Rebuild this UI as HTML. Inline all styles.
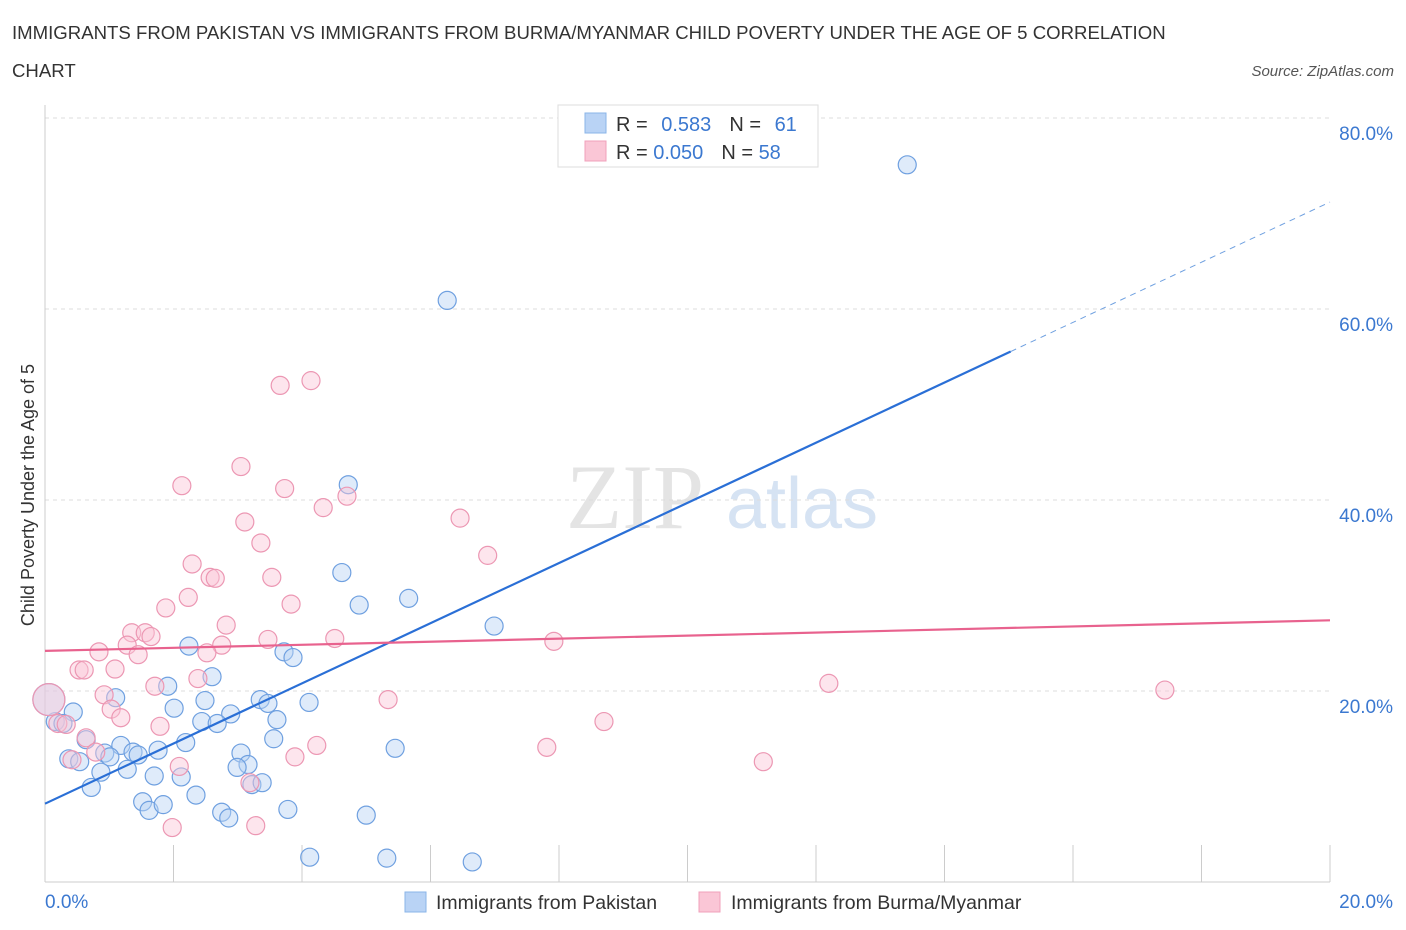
<!DOCTYPE html>
<html><head><meta charset="utf-8"><style>
body{margin:0;background:#fff;font-family:"Liberation Sans",sans-serif;}
svg{display:block}
</style></head><body>
<svg id="chart" width="1406" height="930" xmlns="http://www.w3.org/2000/svg">
<text x="12" y="39" font-size="18.6" fill="#333">IMMIGRANTS FROM PAKISTAN VS IMMIGRANTS FROM BURMA/MYANMAR CHILD POVERTY UNDER THE AGE OF 5 CORRELATION</text>
<text x="12" y="77" font-size="18.6" fill="#333">CHART</text>
<text x="1394" y="76" font-size="15" fill="#555" font-style="italic" text-anchor="end">Source: ZipAtlas.com</text>
<text x="34" y="495" font-size="18" fill="#333" text-anchor="middle" transform="rotate(-90 34 495)">Child Poverty Under the Age of 5</text>
<g>
<text x="635" y="528" font-size="92" fill="#e4e4e4" font-family="Liberation Serif,serif" text-anchor="middle">ZIP</text>
<text x="802" y="528" font-size="72" fill="#d6e3f3" text-anchor="middle">atlas</text>
</g>
<g id="grid"></g>
<g id="axes"></g>
<g id="pts"></g>
<g id="lines"></g>
<g>
<rect x="558" y="105" width="260" height="62" fill="#fff" stroke="#ddd"/>
<rect x="585" y="113" width="21" height="20" fill="#b9d3f5" stroke="#8ab4e8"/>
<rect x="585" y="141" width="21" height="20" fill="#fac6d6" stroke="#f0a0bb"/>
<text x="616" y="131" font-size="20" fill="#333">R = <tspan fill="#3b78d0" dx="8">0.583</tspan><tspan dx="18">N = </tspan><tspan fill="#3b78d0" dx="8">61</tspan></text>
<text x="616" y="159" font-size="20" fill="#333">R = <tspan fill="#3b78d0" dx="0">0.050</tspan><tspan dx="18">N = </tspan><tspan fill="#3b78d0" dx="0">58</tspan></text>
</g>
<g>
<rect x="405" y="892" width="21" height="20" fill="#b9d3f5" stroke="#8ab4e8"/>
<text x="436" y="909" font-size="19.5" fill="#333">Immigrants from Pakistan</text>
<rect x="699" y="892" width="21" height="20" fill="#fac6d6" stroke="#f0a0bb"/>
<text x="731" y="909" font-size="19.5" fill="#333">Immigrants from Burma/Myanmar</text>
</g>
</svg>
<script>
const xTicks=[0,20];
const yTicks=[20,40,60,80];
const blueX=[13.42,6.26,4.72,4.62,4.89,5.66,6.99,2.24,3.72,3.86,1.91,2.6,1.10,2.49,3.35,3.47,4.11,2.01,2.89,2.44,2.68,3.61,0.44,0.16,0.28,0.06,0.64,1.18,1.37,1.45,0.93,1.01,0.37,0.54,2.19,1.76,3.56,3.05,3.16,2.99,5.45,0.87,1.28,1.70,2.12,0.72,3.22,3.38,2.35,1.52,1.62,1.84,2.75,2.86,3.78,5.00,4.12,5.32,6.65];
const blueY=[75.1,60.9,41.6,32.4,29.0,29.7,26.8,24.7,24.1,23.5,20.5,21.5,19.3,19.0,19.1,18.7,18.8,18.2,17.6,16.8,16.6,17.0,17.8,16.8,16.6,19.1,14.9,14.3,13.6,13.3,13.5,13.1,12.9,12.6,14.6,13.8,15.0,13.5,12.3,12.0,14.0,11.5,11.8,11.1,11.0,9.9,10.2,10.4,9.1,8.4,7.5,8.1,7.3,6.7,7.6,7.0,2.6,2.5,2.1];
const pinkX=[4.14,3.66,3.05,2.13,3.73,4.70,4.33,6.46,3.11,3.36,6.89,2.29,2.57,2.65,3.53,2.23,3.83,1.88,2.82,1.35,1.56,1.65,1.28,3.47,4.51,7.92,2.75,0.84,1.45,2.52,0.53,0.61,1.09,2.38,1.71,12.2,17.43,0.92,5.34,1.03,1.18,1.79,8.70,0.06,0.2,0.33,0.64,0.79,0.42,4.23,7.81,3.89,2.09,11.18,3.19,1.98,3.28];
const pinkY=[52.5,52.0,43.5,41.5,41.2,40.4,39.2,38.1,37.7,35.5,34.2,33.3,31.9,31.8,31.9,29.8,29.1,28.7,26.9,26.1,26.1,25.7,24.8,25.4,25.5,25.2,24.8,24.1,23.8,24.0,22.2,22.2,22.3,21.3,20.5,20.8,20.1,19.6,19.1,18.1,17.2,16.3,16.8,19.1,16.6,16.5,15.1,13.6,12.8,14.3,14.1,13.1,12.1,12.6,10.4,5.7,5.9];
const blueFit=[8.2,3.15];
const pinkFit=[24.2,0.16];
const X=v=>45+v*64.25, Y=v=>882-v*9.55;
const NS="http://www.w3.org/2000/svg";
function mk(tag,attrs,parent){const e=document.createElementNS(NS,tag);for(const k in attrs)e.setAttribute(k,attrs[k]);document.getElementById(parent).appendChild(e);return e;}
yTicks.forEach(t=>{
 const g=mk('line',{x1:45,x2:1330,y1:Y(t),y2:Y(t),stroke:'#ddd','stroke-dasharray':'4,4'},'grid');
 
 
 const l=mk('text',{x:1393,y:Y(t)+22,'font-size':19,fill:'#3b78d0','text-anchor':'end'},'axes');
 l.textContent=t.toFixed(1)+'%';
 
 
});
mk('line',{x1:45,x2:45,y1:105,y2:882,stroke:'#ccc'},'axes');
mk('line',{x1:45,x2:1330,y1:882,y2:882,stroke:'#ccc'},'axes');
for(let i=1;i<=10;i++){const t=mk('line',{x1:X(i*2),x2:X(i*2),y1:845,y2:882,stroke:'#ccc'},'axes');
 
 }
xTicks.forEach(t=>{const l=mk('text',{x:t==0?45:1393,y:908,'font-size':19,fill:'#3b78d0','text-anchor':t==0?'start':'end'},'axes');
 l.textContent=t.toFixed(1)+'%';
 
 });
function pts(xs,ys,fill,stroke,name){xs.forEach((x,i)=>{const big=(x<0.1);
 const c=mk('circle',{cx:X(x),cy:Y(ys[i]),r:big?16:9,fill:fill,'fill-opacity':0.45,stroke:stroke,'stroke-width':1.2},'pts');
 
 });}
pts(blueX,blueY,'#b9d3f5','#6fa0e0','pakistan-point');
pts(pinkX,pinkY,'#fac6d6','#ec97b3','burma-point');
let l=mk('line',{x1:X(0),y1:Y(blueFit[0]),x2:X(15.03),y2:Y(blueFit[0]+blueFit[1]*15.03),stroke:'#2a6fd6','stroke-width':2.2},'lines');


l=mk('line',{x1:X(15.03),y1:Y(blueFit[0]+blueFit[1]*15.03),x2:X(20),y2:Y(blueFit[0]+blueFit[1]*20),stroke:'#6fa0e0','stroke-width':1,'stroke-dasharray':'6,5'},'lines');


l=mk('line',{x1:X(0),y1:Y(pinkFit[0]),x2:X(20),y2:Y(pinkFit[0]+pinkFit[1]*20),stroke:'#e8628e','stroke-width':2.2},'lines');


</script>
</body></html>
